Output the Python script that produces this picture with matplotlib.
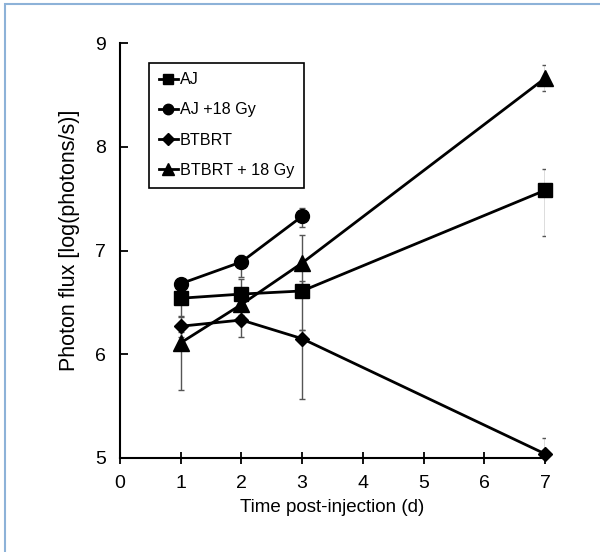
import matplotlib
matplotlib.use("Agg")
import matplotlib.pyplot as plt
from matplotlib.patches import Rectangle

plt.rcParams['font.family'] = ['Liberation Sans', 'DejaVu Sans']

days = [1, 2, 3, 7]
days_short = [1, 2, 3]

aj = [6.54, 6.58, 6.61, 7.58]
aj_lo = [0.18, 0.05, 0.38, 0.44]
aj_hi = [0.05, 0.15, 0.10, 0.21]

aj18 = [6.68, 6.89, 7.33]
aj18_lo = [0.05, 0.15, 0.10]
aj18_hi = [0.05, 0.07, 0.08]

bt = [6.27, 6.33, 6.15, 5.04]
bt_lo = [0.10, 0.16, 0.58, 0.0]
bt_hi = [0.10, 0.10, 0.08, 0.15]

bt18 = [6.11, 6.48, 6.88, 8.66]
bt18_lo = [0.45, 0.10, 0.30, 0.12]
bt18_hi = [0.10, 0.10, 0.27, 0.13]

labels = ['AJ', 'AJ +18 Gy', 'BTBRT', 'BTBRT + 18 Gy']
xticks = [0, 1, 2, 3, 4, 5, 6, 7]
yticks = [5, 6, 7, 8, 9]

fig = plt.figure(figsize=(6.0, 5.52), dpi=100)
ax = fig.add_axes([120/600, 1-458/552, 425/600, 415/552])

series = [
    (days, aj, aj_lo, aj_hi, 's', 10),
    (days_short, aj18, aj18_lo, aj18_hi, 'o', 10),
    (days, bt, bt_lo, bt_hi, 'D', 7.5),
    (days, bt18, bt18_lo, bt18_hi, '^', 11),
]
handles = []
for (x, y, lo, hi, m, ms), lab in zip(series, labels):
    ax.errorbar(x, y, yerr=[lo, hi], fmt='none', ecolor='#555555',
                elinewidth=1.0, capsize=2.5, capthick=1.0, zorder=2)
    h, = ax.plot(x, y, color='black', lw=2, marker=m, markersize=ms,
                 markerfacecolor='black', markeredgecolor='black',
                 label=lab, zorder=3, clip_on=False)
    handles.append(h)

ax.set_xlim(0, 7)
ax.set_ylim(5, 9)
ax.set_xticks(xticks)
ax.set_yticks(yticks)
ax.spines['top'].set_visible(False)
ax.spines['right'].set_visible(False)
for s in ['left', 'bottom']:
    ax.spines[s].set_linewidth(1.5)
ax.tick_params(axis='x', direction='inout', length=9, width=1.3,
               labelsize=14, pad=8)
ax.tick_params(axis='y', direction='in', length=6, width=1.3,
               labelsize=14, pad=10)
ax.set_xlabel('Time post-injection (d)', fontsize=13.5)
ax.xaxis.set_label_coords(0.5, -0.098)
ax.set_ylabel('Photon flux [log(photons/s)]', fontsize=15.5)
ax.yaxis.set_label_coords(-0.094, 0.525)

leg = ax.legend(handles=handles, loc='upper left',
                bbox_to_anchor=(0.068, 0.953), fontsize=11.6,
                handlelength=1.2, handletextpad=0.1, borderpad=0.6,
                labelspacing=0.95, fancybox=False, edgecolor='black',
                framealpha=1, markerscale=0.75, borderaxespad=0)
leg.get_frame().set_linewidth(1.2)

fig.patches.append(Rectangle((5/600, -0.1), 1.2, 1.1 - 4/552,
                             transform=fig.transFigure, fill=False,
                             edgecolor='#8db2d8', lw=1.5))

fig.savefig('out.png', dpi=100)
